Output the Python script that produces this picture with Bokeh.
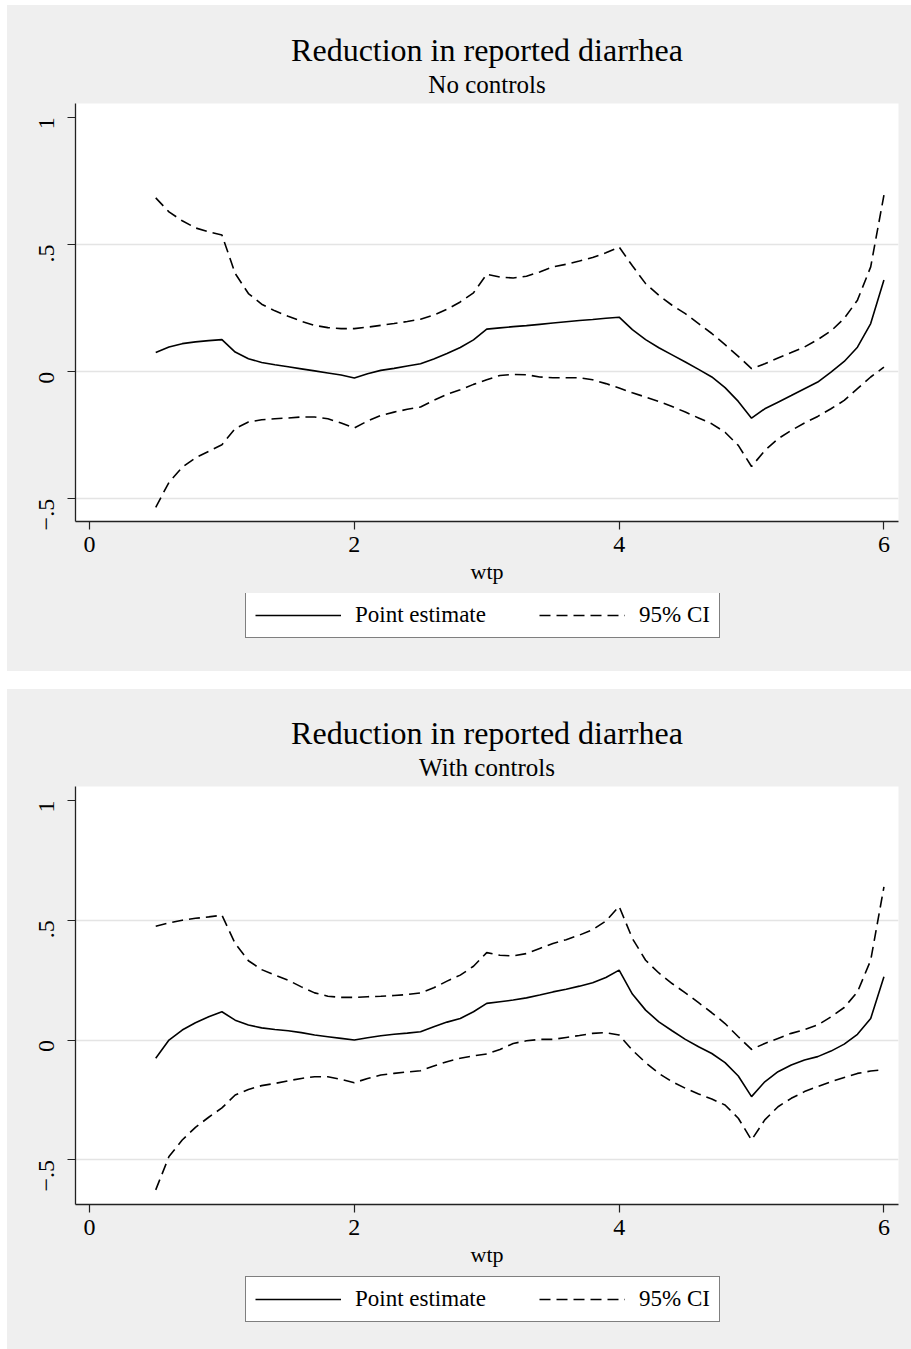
import math
from bokeh.plotting import figure
from bokeh.models import FixedTicker, Title, Legend, LegendItem, Range1d, Spacer
from bokeh.layouts import column, row
from bokeh.embed import file_html
from bokeh.resources import INLINE

# ---------------- data ----------------
wtp = [0.5, 0.6, 0.7, 0.8, 0.9, 1.0,
       1.1, 1.2, 1.3, 1.4, 1.5, 1.6, 1.7, 1.8, 1.9, 2.0,
       2.1, 2.2, 2.3, 2.4, 2.5, 2.6, 2.7, 2.8, 2.9, 3.0,
       3.1, 3.2, 3.3, 3.4, 3.5, 3.6, 3.7, 3.8, 3.9, 4.0,
       4.1, 4.2, 4.3, 4.4, 4.5, 4.6, 4.7, 4.8, 4.9, 5.0,
       5.1, 5.2, 5.3, 5.4, 5.5, 5.6, 5.7, 5.8, 5.9, 6.0]

# Panel 1: No controls
point_nc = [0.075, 0.097, 0.110, 0.117, 0.122, 0.126,
            0.077, 0.051, 0.036, 0.027, 0.019, 0.011, 0.003, -0.005, -0.013, -0.025,
            -0.008, 0.005, 0.013, 0.022, 0.031, 0.050, 0.071, 0.095, 0.125, 0.167,
            0.172, 0.177, 0.181, 0.186, 0.191, 0.196, 0.201, 0.205, 0.210, 0.214,
            0.165, 0.126, 0.094, 0.066, 0.038, 0.009, -0.021, -0.063, -0.117, -0.183,
            -0.146, -0.120, -0.094, -0.067, -0.041, -0.002, 0.040, 0.096, 0.189, 0.360]
upper_nc = [0.683, 0.628, 0.593, 0.565, 0.550, 0.537,
            0.386, 0.307, 0.265, 0.239, 0.218, 0.198, 0.182, 0.173, 0.169, 0.169,
            0.175, 0.182, 0.189, 0.197, 0.206, 0.222, 0.245, 0.274, 0.310, 0.383,
            0.372, 0.368, 0.375, 0.392, 0.412, 0.422, 0.435, 0.449, 0.467, 0.490,
            0.416, 0.346, 0.300, 0.261, 0.228, 0.189, 0.150, 0.106, 0.060, 0.012,
            0.031, 0.054, 0.075, 0.097, 0.126, 0.160, 0.209, 0.281, 0.412, 0.694]
lower_nc = [-0.533, -0.435, -0.376, -0.339, -0.313, -0.287,
            -0.224, -0.198, -0.189, -0.185, -0.182, -0.178, -0.178, -0.185, -0.202, -0.221,
            -0.194, -0.172, -0.159, -0.148, -0.139, -0.113, -0.089, -0.071, -0.050, -0.032,
            -0.015, -0.011, -0.012, -0.021, -0.024, -0.024, -0.024, -0.032, -0.047, -0.064,
            -0.083, -0.100, -0.117, -0.137, -0.159, -0.182, -0.205, -0.238, -0.290, -0.373,
            -0.310, -0.264, -0.231, -0.202, -0.176, -0.146, -0.113, -0.067, -0.021, 0.018]

# Panel 2: With controls
point_wc = [-0.076, 0.000, 0.042, 0.072, 0.097, 0.118,
            0.083, 0.063, 0.051, 0.044, 0.039, 0.031, 0.021, 0.014, 0.007, 0.000,
            0.010, 0.018, 0.024, 0.029, 0.035, 0.056, 0.075, 0.090, 0.118, 0.153,
            0.160, 0.167, 0.176, 0.188, 0.201, 0.212, 0.225, 0.239, 0.261, 0.292,
            0.192, 0.125, 0.076, 0.039, 0.003, -0.028, -0.056, -0.094, -0.150, -0.236,
            -0.174, -0.132, -0.104, -0.083, -0.069, -0.046, -0.017, 0.024, 0.090, 0.264]
upper_wc = [0.475, 0.489, 0.500, 0.508, 0.514, 0.521,
            0.403, 0.331, 0.294, 0.271, 0.250, 0.222, 0.197, 0.183, 0.178, 0.178,
            0.181, 0.183, 0.186, 0.190, 0.197, 0.218, 0.246, 0.271, 0.308, 0.365,
            0.354, 0.351, 0.361, 0.382, 0.403, 0.419, 0.438, 0.461, 0.497, 0.558,
            0.424, 0.333, 0.280, 0.236, 0.197, 0.156, 0.114, 0.069, 0.014, -0.039,
            -0.014, 0.007, 0.028, 0.044, 0.063, 0.097, 0.136, 0.201, 0.333, 0.639]
lower_wc = [-0.625, -0.486, -0.417, -0.364, -0.322, -0.283,
            -0.229, -0.206, -0.190, -0.181, -0.170, -0.160, -0.153, -0.153, -0.164, -0.178,
            -0.160, -0.146, -0.139, -0.133, -0.128, -0.108, -0.090, -0.076, -0.066, -0.058,
            -0.039, -0.014, -0.003, 0.003, 0.003, 0.011, 0.019, 0.028, 0.031, 0.021,
            -0.042, -0.094, -0.139, -0.174, -0.201, -0.225, -0.246, -0.271, -0.326, -0.417,
            -0.333, -0.278, -0.243, -0.215, -0.194, -0.174, -0.156, -0.139, -0.129, -0.123]

main_title = "Reduction in reported diarrhea"
subtitles = ["No controls", "With controls"]
x_ticks = [0, 2, 4, 6]
y_ticks = [-0.5, 0, 0.5, 1]
y_tick_labels = {-0.5: "\u2212.5", 0: "0", 0.5: ".5", 1: "1"}
grid_ticks = [-0.5, 0, 0.5]
x_label = "wtp"
legend_labels = ["Point estimate", "95% CI"]

FONT = "Liberation Serif"
BG = "#efefef"
DASH = "11 6"
LW = 1.6


def make_plot(subtitle, pe, hi, lo, ymin, ymax, top_b):
    p = figure(frame_width=823, frame_height=418,
               x_range=Range1d(-0.106, 6.11), y_range=Range1d(ymin, ymax),
               output_backend="svg", toolbar_location=None, title=None,
               min_border_left=68, min_border_right=13,
               min_border_top=top_b, min_border_bottom=72)
    p.border_fill_color = BG
    p.background_fill_color = "white"
    p.outline_line_color = None

    p.xgrid.visible = False
    p.ygrid.ticker = FixedTicker(ticks=grid_ticks)
    p.ygrid.grid_line_color = "#e4e4e4"
    p.ygrid.grid_line_width = 1.5

    for ax in (p.xaxis[0], p.yaxis[0]):
        ax.axis_line_color = "#222222"
        ax.axis_line_width = 1.3
        ax.major_tick_line_color = "#222222"
        ax.major_tick_line_width = 1.2
        ax.major_tick_out = 8
        ax.major_tick_in = 0
        ax.minor_tick_out = 0
        ax.minor_tick_in = 0
        ax.major_label_text_font = FONT
        ax.major_label_text_font_size = "24px"
        ax.major_label_text_color = "black"

    p.xaxis.ticker = FixedTicker(ticks=x_ticks)
    p.xaxis.major_label_standoff = 7
    p.xaxis.axis_label = x_label
    p.xaxis.axis_label_text_font = FONT
    p.xaxis.axis_label_text_font_size = "22px"
    p.xaxis.axis_label_text_font_style = "normal"
    p.xaxis.axis_label_text_color = "black"
    p.xaxis.axis_label_standoff = 4

    p.yaxis.ticker = FixedTicker(ticks=y_ticks)
    p.yaxis.major_label_overrides = y_tick_labels
    p.yaxis.major_label_orientation = math.pi / 2
    p.yaxis.major_label_standoff = 21

    p.line(wtp, pe, line_color="black", line_width=LW)
    p.line(wtp, hi, line_color="black", line_width=LW, line_dash=DASH)
    p.line(wtp, lo, line_color="black", line_width=LW, line_dash=DASH)

    p.add_layout(Title(text=subtitle, align="center", text_font=FONT,
                       text_font_size="25px", text_font_style="normal",
                       text_color="black", standoff=12), "above")
    p.add_layout(Title(text=main_title, align="center", text_font=FONT,
                       text_font_size="32px", text_font_style="normal",
                       text_color="black", standoff=-10), "above")
    return p


def make_legend(height, bottom):
    # legend strip below the plot; its frame is aligned with the plot frame
    q = figure(width=904, height=height, x_range=Range1d(0, 1), y_range=Range1d(0, 1),
               x_axis_type=None, y_axis_type=None, output_backend="svg",
               toolbar_location=None, title=None, min_border=0)
    q.grid.visible = False
    q.outline_line_color = None
    q.background_fill_color = BG
    q.border_fill_color = BG
    # keys for the legend; their points lie outside the visible range
    r1 = q.line([5, 6], [5, 6], line_color="black", line_width=LW)
    r2 = q.line([5, 6], [5, 6], line_color="black", line_width=LW, line_dash=DASH)
    legend = Legend(items=[LegendItem(label=legend_labels[0], renderers=[r1]),
                           LegendItem(label=legend_labels[1], renderers=[r2])],
                    orientation="horizontal", location=(170, bottom),
                    glyph_width=86, glyph_height=20, label_standoff=14,
                    spacing=53, padding=9, margin=0,
                    border_line_color="black", border_line_width=1.3,
                    background_fill_color="white", background_fill_alpha=1.0,
                    label_text_font=FONT, label_text_font_size="23px",
                    label_text_color="black")
    q.add_layout(legend)
    return q


p1 = make_plot(subtitles[0], point_nc, upper_nc, lower_nc, -0.589, 1.054, 98)
l1 = make_legend(78, 33)
p2 = make_plot(subtitles[1], point_wc, upper_wc, lower_wc, -0.686, 1.058, 97)
l2 = make_legend(73, 27)

panel_style = {"background-color": BG}
layout = column(Spacer(width=911, height=5),
                row(Spacer(width=7, height=666),
                    column(p1, l1, spacing=0, styles=panel_style), spacing=0),
                Spacer(width=911, height=18),
                row(Spacer(width=7, height=660),
                    column(p2, l2, spacing=0, styles=panel_style), spacing=0),
                spacing=0)

open("out.html", "w").write(file_html(layout, INLINE))
